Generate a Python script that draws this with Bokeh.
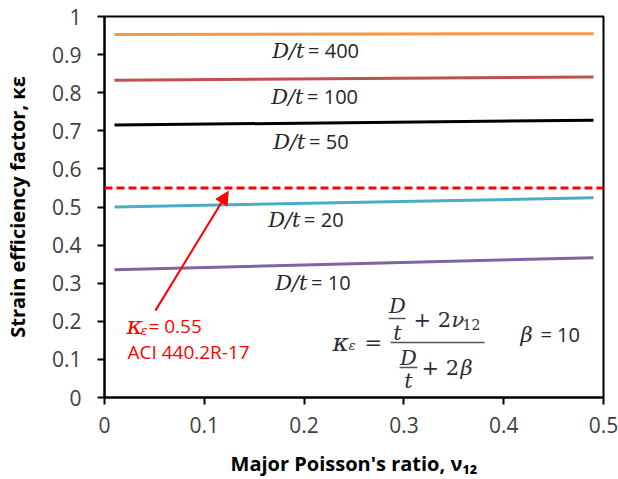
from bokeh.plotting import figure
from bokeh.models import Range1d, FixedTicker, Span, Arrow, NormalHead
from bokeh.core.properties import value
from bokeh.embed import file_html
from bokeh.resources import INLINE

# ---- data ----
nu12 = [0.01, 0.49]
k_dt400 = [0.953, 0.955]
k_dt100 = [0.833, 0.841]
k_dt50 = [0.715, 0.728]
k_dt20 = [0.500, 0.524]
k_dt10 = [0.335, 0.367]
dt_values = ["400", "100", "50", "20", "10"]
series_colors = ["#F79646", "#C0504D", "#000000", "#4BACC6", "#8064A2"]
aci_limit = 0.55
beta = "10"

x_ticks = [0, 0.1, 0.2, 0.3, 0.4, 0.5]
x_tick_labels = ["0", "0.1", "0.2", "0.3", "0.4", "0.5"]
y_ticks = [0, 0.1, 0.2, 0.3, 0.4, 0.5, 0.6, 0.7, 0.8, 0.9, 1]
y_tick_labels = ["0", "0.1", "0.2", "0.3", "0.4", "0.5", "0.6", "0.7", "0.8", "0.9", "1"]

SANS = "Open Sans"
SERIF = "DejaVu Serif"
MATH_COLOR = "#2b2b3b"
TEXT_COLOR = "#262626"
DY = 0.02  # baseline correction for text glyphs


def ty(vals):
    return [v + DY for v in vals]


p = figure(width=618, height=479, output_backend="svg", toolbar_location=None,
           x_range=Range1d(0, 0.5), y_range=Range1d(0, 1))
p.min_border_left = 104
p.min_border_right = 15
p.min_border_top = 16
p.min_border_bottom = 82
p.background_fill_color = "white"
p.border_fill_color = "white"
p.outline_line_color = "black"
p.outline_line_width = 2
p.grid.visible = False

for ax in (p.xaxis, p.yaxis):
    ax.axis_line_width = 2
    ax.axis_line_color = "black"
    ax.major_tick_line_width = 2
    ax.major_tick_line_color = "black"
    ax.major_tick_out = 7
    ax.major_tick_in = 0
    ax.minor_tick_line_color = None
    ax.major_label_text_font = SANS
    ax.major_label_text_font_size = "21px"
    ax.major_label_text_color = "#404040"
    ax.axis_label_text_font = SANS
    ax.axis_label_text_font_size = "20px"
    ax.axis_label_text_font_style = "bold"
    ax.axis_label_text_color = "black"

p.xaxis.ticker = FixedTicker(ticks=x_ticks)
p.xaxis.major_label_overrides = dict(zip(x_ticks, x_tick_labels))
p.yaxis.ticker = FixedTicker(ticks=y_ticks)
p.yaxis.major_label_overrides = dict(zip(y_ticks, y_tick_labels))
p.xaxis.major_label_standoff = 12
p.yaxis.major_label_standoff = 16
p.xaxis.axis_label_standoff = 14
p.yaxis.axis_label_standoff = 18
p.xaxis.axis_label = "Major Poisson's ratio, \u03bd\u2081\u2082"
p.yaxis.axis_label = "Strain efficiency factor, \u03ba\u03b5"

# ---- series lines ----
for ys, c in zip([k_dt400, k_dt100, k_dt50, k_dt20, k_dt10], series_colors):
    p.line(nu12, ys, line_color=c, line_width=3)

# ---- ACI limit ----
p.add_layout(Span(location=aci_limit, dimension="width", line_color="#FF0000",
                  line_width=3, line_dash="8 4"))

# ---- D/t labels ----
lab_x = [0.168, 0.167, 0.169, 0.164, 0.171]
lab_y = [0.890, 0.769, 0.651, 0.446, 0.281]
p.text(x=lab_x, y=ty(lab_y), text=["D/t"] * 5, text_font=value(SERIF),
       text_font_style="italic", text_font_size="21px", text_color=TEXT_COLOR,
       text_align="left", text_baseline="alphabetic")
p.text(x=[v + 0.036 for v in lab_x], y=ty(lab_y), text=["= " + d for d in dt_values],
       text_font=value(SANS), text_font_size="20px", text_color=TEXT_COLOR,
       text_align="left", text_baseline="alphabetic")

# ---- ACI annotation ----
p.add_layout(Arrow(end=NormalHead(size=13, fill_color="#FF0000", line_color="#FF0000"),
                   x_start=0.051, y_start=0.228, x_end=0.124, y_end=0.541,
                   line_color="#FF0000", line_width=2))
p.text(x=[0.022], y=ty([0.168]), text=["\u03ba"], text_font=value(SERIF),
       text_font_style="italic", text_font_size="25px", text_color="#FF0000",
       text_baseline="alphabetic")
p.text(x=[0.036], y=ty([0.157]), text=["\u03b5"], text_font=value(SERIF),
       text_font_style="italic", text_font_size="13px", text_color="#FF0000",
       text_baseline="alphabetic")
p.text(x=[0.044, 0.023], y=ty([0.168, 0.0997]), text=["= " + str(aci_limit), "ACI 440.2R-17"],
       text_font=value(SANS), text_font_size="19px", text_color="#FF0000",
       text_baseline="alphabetic")

# ---- formula ----
p.text(x=[0.2285], y=ty([0.1234]), text=["\u03ba"], text_font=value(SERIF),
       text_font_style="italic", text_font_size="25px", text_color=MATH_COLOR,
       text_baseline="alphabetic")
p.text(x=[0.2936, 0.2936, 0.3046, 0.3046, 0.3477],
       y=ty([0.2205, 0.1496, 0.0840, 0.0236, 0.1837]),
       text=["D", "t", "D", "t", "\u03bd"],
       text_align=["center", "center", "center", "center", "left"],
       text_font=value(SERIF), text_font_style="italic", text_font_size="21px",
       text_color=MATH_COLOR, text_baseline="alphabetic")
p.text(x=[0.2445], y=ty([0.1155]), text=["\u03b5"], text_font=value(SERIF),
       text_font_style="italic", text_font_size="13px", text_color=MATH_COLOR,
       text_baseline="alphabetic")
p.text(x=[0.2605, 0.3096, 0.3176], y=ty([0.1234, 0.1837, 0.0577]),
       text=["=", "+ 2", "+ 2"], text_font=value(SERIF), text_font_size="21px",
       text_color=MATH_COLOR, text_baseline="alphabetic")
p.text(x=[0.3587], y=ty([0.1706]), text=["12"], text_font=value(SERIF),
       text_font_size="14px", text_color=MATH_COLOR, text_baseline="alphabetic")
p.text(x=[0.3567], y=ty([0.0577]), text=["\u03b2"], text_font=value(SERIF),
       text_font_style="italic", text_font_size="21px", text_color=MATH_COLOR,
       text_baseline="alphabetic")
p.segment(x0=[0.2866, 0.2846, 0.2956], y0=[0.1444, 0.2073, 0.0787],
          x1=[0.3808, 0.3016, 0.3136], y1=[0.1444, 0.2073, 0.0787],
          line_color="#555555", line_width=1.5)

# ---- beta note ----
p.text(x=[0.4168], y=ty([0.1444]), text=["\u03b2"], text_font=value(SERIF),
       text_font_style="italic", text_font_size="21px", text_color=TEXT_COLOR,
       text_baseline="alphabetic")
p.text(x=[0.4368], y=ty([0.1444]), text=["= " + beta], text_font=value(SANS),
       text_font_size="20px", text_color=TEXT_COLOR, text_baseline="alphabetic")

open("out.html", "w").write(file_html(p, INLINE))
